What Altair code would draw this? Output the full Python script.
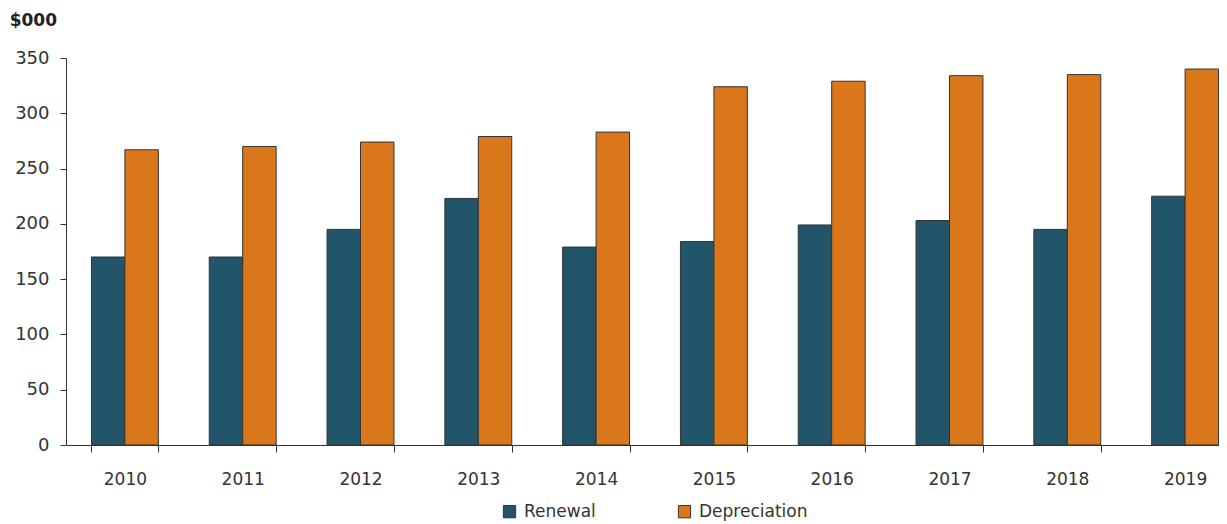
import altair as alt
import pandas as pd

years = ["2010", "2011", "2012", "2013", "2014", "2015", "2016", "2017", "2018", "2019"]
renewal = [170, 170, 195, 223, 179, 184, 199, 203, 195, 225]
depreciation = [267, 270, 274, 279, 283, 324, 329, 334, 335, 340]
series = ["Renewal", "Depreciation"]
colors = ["#22546A", "#DA771B"]

rows = []
for i, y in enumerate(years):
    rows.append({"year": y, "series": series[0], "value": renewal[i]})
    rows.append({"year": y, "series": series[1], "value": depreciation[i]})
df = pd.DataFrame(rows)

font = "DejaVu Sans"

chart = alt.Chart(df).mark_bar(stroke="#333333", strokeWidth=1).encode(
    x=alt.X("year:N", sort=years,
            scale=alt.Scale(paddingInner=0.432, paddingOuter=0.216, range=[0, 1178]),
            axis=alt.Axis(title=None, labelAngle=0, tickBand="extent",
                          tickSize=7, labelPadding=19, domainColor="#333333",
                          tickColor="#333333", labelColor="#333333",
                          labelFont=font, labelFontSize=17)),
    xOffset=alt.XOffset("series:N", sort=series),
    y=alt.Y("value:Q",
            scale=alt.Scale(domain=[0, 350]),
            axis=alt.Axis(title=None, values=[0, 50, 100, 150, 200, 250, 300, 350],
                          grid=False, tickSize=6, labelPadding=11,
                          domainColor="#333333", tickColor="#333333",
                          labelColor="#333333", labelFont=font, labelFontSize=18)),
    color=alt.Color("series:N", sort=series,
                    scale=alt.Scale(domain=series, range=colors),
                    legend=alt.Legend(title=None, orient="none", direction="horizontal",
                                      legendX=435, legendY=445, padding=0,
                                      symbolType="square", symbolSize=150,
                                      symbolStrokeColor="#333333", symbolStrokeWidth=1,
                                      labelFont=font, labelFontSize=17, labelOffset=6,
                                      labelColor="#333333", columnPadding=80)),
).properties(
    width=1152, height=387,
    title=alt.TitleParams("$000", anchor="start", font=font, fontSize=17,
                          fontWeight="bold", color="#222222", offset=19, dx=-5),
    autosize=alt.AutoSizeParams(type="none"),
    padding={"left": 58, "top": 50, "right": 1, "bottom": 80},
).configure_view(stroke=None)

chart.save("out.html", embed_options={"renderer": "svg", "actions": False})
